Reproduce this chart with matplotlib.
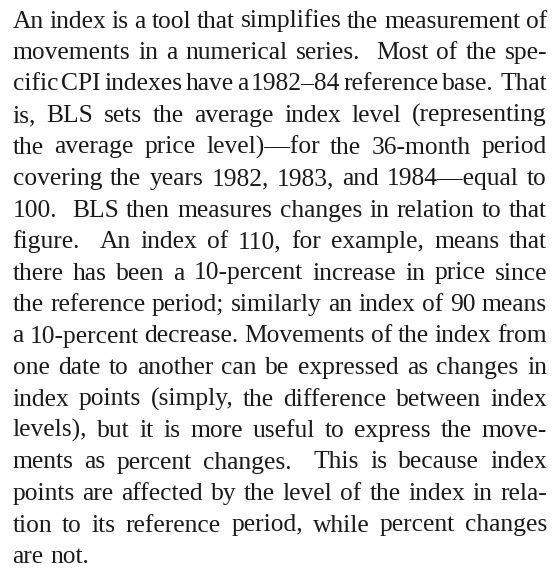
import matplotlib
matplotlib.use("Agg")
import matplotlib.pyplot as plt

LINES = [
    "An index is a tool that simplifies the measurement of",
    "movements in a numerical series.  Most of the spe-",
    "cific CPI indexes have a 1982\u201384 reference base.  That",
    "is, BLS sets the average index level (representing",
    "the average price level)\u2014for the 36-month period",
    "covering the years 1982, 1983, and 1984\u2014equal to",
    "100.  BLS then measures changes in relation to that",
    "figure.  An index of 110, for example, means that",
    "there has been a 10-percent increase in price since",
    "the reference period; similarly an index of 90 means",
    "a 10-percent decrease. Movements of the index from",
    "one date to another can be expressed as changes in",
    "index points (simply, the difference between index",
    "levels), but it is more useful to express the move-",
    "ments as percent changes.  This is because index",
    "points are affected by the level of the index in rela-",
    "tion to its reference period, while percent changes",
    "are not.",
]

W, H, DPI = 554, 573, 100
LEFT, RIGHT = 12.5, 547.0
FIRST_BASE, LEADING = 27.5, 31.5
FS = 18.4
COLOR = "#1a1a1a"
FAMILY = "Liberation Serif"

fig = plt.figure(figsize=(W / DPI, H / DPI), dpi=DPI)
fig.patch.set_facecolor("white")
renderer = fig.canvas.get_renderer()


def width(s):
    t = fig.text(0, 0, s, fontsize=FS, family=FAMILY)
    w = t.get_window_extent(renderer).width
    t.remove()
    return w

space = width("a a") - width("aa")

for i, line in enumerate(LINES):
    parts = line.split(" ")
    words, gaps = [], []
    pending = 0
    for p in parts:
        if p == "":
            pending += 1
            continue
        if words:
            gaps.append(1 + pending)
        words.append(p)
        pending = 0
    widths = [width(w) for w in words]
    last = i == len(LINES) - 1
    base_gaps = [g * space for g in gaps]
    if not last and gaps:
        extra = (RIGHT - LEFT) - sum(widths) - sum(base_gaps)
        tot = sum(gaps)
        base_gaps = [bg + extra * g / tot for bg, g in zip(base_gaps, gaps)]
    y = 1 - (FIRST_BASE + i * LEADING) / H
    x = LEFT
    for j, (wd, w) in enumerate(zip(words, widths)):
        fig.text(x / W, y, wd, fontsize=FS, family=FAMILY, color=COLOR,
                 va="baseline", ha="left")
        x += w
        if j < len(base_gaps):
            x += base_gaps[j]

fig.savefig("out.png", dpi=DPI, facecolor="white")
